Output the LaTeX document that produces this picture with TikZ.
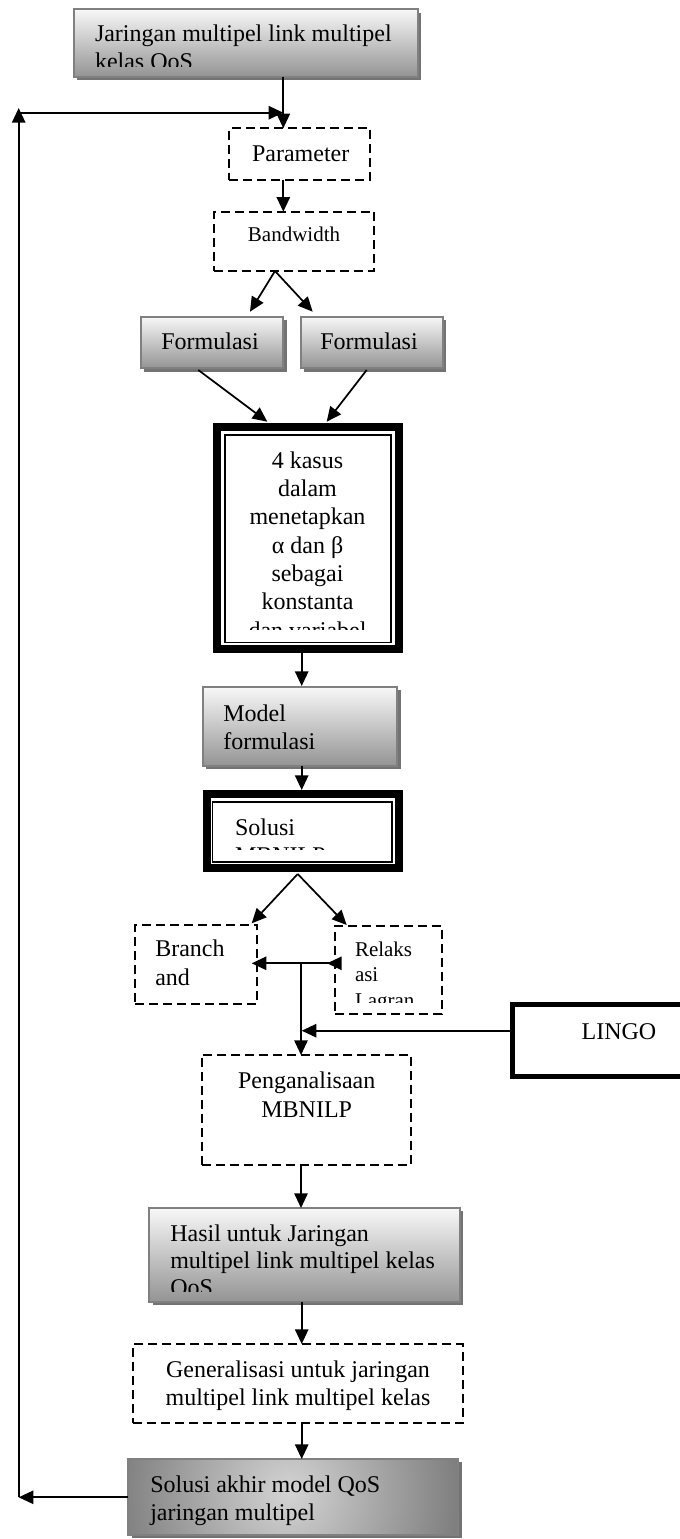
\documentclass[tikz,border=0pt]{standalone}
\usepackage{fontspec}
\setmainfont{Liberation Serif}
\usetikzlibrary{arrows.meta,fit,shadows,calc}
\begin{document}
\begin{tikzpicture}[x=0.75pt,y=-0.75pt,
  arr/.style={line width=1.3pt,-{Triangle[length=11pt,width=10pt]}},
  arrR/.style={line width=1.3pt,{Triangle[length=11pt,width=10pt,reversed]}-},
  gbox/.style={draw=black!50,line width=1.5pt,top color=black!3,bottom color=black!42,
    inner sep=0pt,outer sep=0pt,
    drop shadow={shadow xshift=2.5pt,shadow yshift=-2.5pt,fill=black!55,opacity=1}},
  rbox/.style={draw=black!50,line width=1.5pt,fill=black!62,
    inner sep=0pt,outer sep=0pt,
    path picture={\shade[inner color=black!17,outer color=black!62]
      ($(path picture bounding box.west)+(160,-4)$) circle (230);},
    drop shadow={shadow xshift=2.5pt,shadow yshift=-2.5pt,fill=black!55,opacity=1}},
  dbox/.style={draw=black,line width=1.7pt,dash pattern=on 6.75pt off 3.75pt,inner sep=0pt,outer sep=0pt},
  tbox/.style={draw=black,line width=6pt,inner sep=0pt,outer sep=0pt},
  lbox/.style={draw=black,line width=3.75pt,inner sep=0pt,outer sep=0pt},
  ibox/.style={draw=black,line width=1.4pt,inner sep=0pt,outer sep=0pt},
  txt/.style={inner sep=0pt,outer sep=0pt,font=\fontsize{18pt}{21pt}\selectfont},
  stxt/.style={inner sep=0pt,outer sep=0pt,font=\fontsize{15.75pt}{19pt}\selectfont},
]
\clip (0,0) rectangle (680,1539);
\useasboundingbox (0,0) rectangle (680,1539);

% ---------- boxes ----------
\node[gbox,fit={(74,9.3)(418,76.7)}] (top) {};
\begin{scope}
\clip (76,11) rectangle (416,66.7);
\node[txt,anchor=base west,align=left] (toptxt) at (95,69.7) {Jaringan multipel link multipel\\kelas QoS};
\end{scope}

\node[dbox,fit={(229,128.3)(370,180)}] (param) {};
\node[txt,anchor=base] (paramtxt) at (300.7,161) {Parameter};

\node[dbox,fit={(214.3,211.7)(374.3,271)}] (bw) {};
\node[stxt,anchor=base] (bwtxt) at (294,241.7) {Bandwidth};

\node[gbox,fit={(141,316.7)(283.3,368.3)}] (f1) {};
\node[txt,anchor=base] (f1txt) at (210,349.3) {Formulasi};
\node[gbox,fit={(301,316.7)(442.7,368.3)}] (f2) {};
\node[txt,anchor=base] (f2txt) at (369,349.3) {Formulasi};

\node[tbox,fit={(217.3,427.3)(398.7,649.3)}] (kasus) {};
\node[ibox,fit={(225,435)(391,642.5)}] (kasusin) {};
\begin{scope}
\clip (226,436) rectangle (390,629.5);
\node[inner sep=0pt,anchor=base,align=center,font=\fontsize{18pt}{21.25pt}\selectfont] (kasustxt) at (307.5,638.3)
 {4 kasus\\dalam\\menetapkan\\α dan β\\sebagai\\konstanta\\dan variabel};
\end{scope}

\node[gbox,fit={(202.7,687)(397.3,766)}] (model) {};
\node[txt,anchor=base west,align=left] (modeltxt) at (223.3,749.7) {Model\\formulasi};

\node[tbox,fit={(206.7,794)(398.7,867.7)}] (sol) {};
\node[ibox,fit={(212.5,802)(392,861.7)}] (solin) {};
\begin{scope}
\clip (213,803) rectangle (391,849.5);
\node[txt,anchor=base west,align=left] (soltxt) at (235,863.7) {Solusi\\MBNILP};
\end{scope}

\node[dbox,fit={(135,925)(257.3,1004)}] (branch) {};
\node[inner sep=0pt,anchor=base west,align=left,font=\fontsize{18pt}{21.25pt}\selectfont] (branchtxt) at (155,985) {Branch\\and};

\node[dbox,fit={(335,925.7)(441.7,1014)}] (relaks) {};
\begin{scope}
\clip (336,927) rectangle (441,1002);
\node[stxt,anchor=base west,align=left] (relakstxt) at (355,1007.3) {Relaks\\asi\\Lagran};
\end{scope}

\node[lbox,fit={(512.5,1004.8)(700,1076.8)}] (lingo) {};
\node[txt,anchor=base] (lingotxt) at (619,1039) {LINGO};

\node[dbox,fit={(201.7,1055)(411,1165)}] (peng) {};
\node[inner sep=0pt,anchor=base,align=center,font=\fontsize{18pt}{21.75pt}\selectfont] (pengtxt) at (306.7,1117.3) {Penganalisaan\\MBNILP};

\node[gbox,fit={(149.3,1208)(460,1301.7)}] (hasil) {};
\begin{scope}
\clip (151,1210) rectangle (458,1291.7);
\node[inner sep=0pt,anchor=base west,align=left,font=\fontsize{18pt}{20.25pt}\selectfont] (hasiltxt) at (170,1295.7)
 {Hasil untuk Jaringan\\multipel link multipel kelas\\QoS};
\end{scope}

\node[dbox,fit={(133.3,1344)(462.7,1423.3)}] (gen) {};
\node[inner sep=0pt,anchor=base,align=center,font=\fontsize{18pt}{20.8pt}\selectfont] (gentxt) at (298,1405)
 {Generalisasi untuk jaringan\\multipel link multipel kelas};

\node[rbox,fit={(128.3,1459)(458.3,1535)}] (akhir) {};
\node[inner sep=0pt,anchor=base west,align=left,font=\fontsize{18pt}{20.8pt}\selectfont] (akhirtxt) at (150,1520)
 {Solusi akhir model QoS\\jaringan multipel};

% ---------- coordinates ----------
\coordinate (pin) at (283.3,112.7);
\coordinate (fbB) at (18.7,1497.3);
\coordinate (fbT) at (18.7,108);
\coordinate (bwS) at (275,271);
\coordinate (f1T) at (250,311.7);
\coordinate (f2T) at (312.7,311.7);
\coordinate (f1S) at (198.3,370);
\coordinate (f2S) at (366.7,370);
\coordinate (kL) at (267.3,421.7);
\coordinate (kR) at (326.7,421.7);
\coordinate (mid) at (301.7,700);
\coordinate (solS) at (297.7,874);
\coordinate (brT) at (251.7,923.3);
\coordinate (rlT) at (346.7,925);
\coordinate (j) at (301,963.3);
\coordinate (brE) at (251.7,963.3);
\coordinate (rlW) at (341.7,963.3);
\coordinate (lin) at (301.7,1030.7);

% ---------- connectors ----------
\draw[arr] (top.south -| pin) -- (param.north -| pin);
\draw[arr] (akhir.west |- fbB) -- (fbB);
\draw[arr] (fbB) -- (fbT);
\draw[arr] (fbT |- pin) -- (pin);
\draw[arr] (param.south -| pin) -- (bw.north -| pin);
\draw[arr] (bwS) -- (f1T);
\draw[arr] (bwS) -- (f2T);
\draw[arr] (f1S) -- (kL);
\draw[arr] (f2S) -- (kR);
\draw[arr] ($(kasus.south -| mid)+(0,3)$) -- ($(model.north -| mid)+(0,-1)$);
\draw[arr] (model.south -| mid) -- ($(sol.north -| mid)+(0,-4)$);
\draw[arr] (solS) -- (brT);
\draw[arr] (solS) -- (rlT);
\draw[arr] (j) -- (brE);
\draw[arrR] (rlW) -- (j);
\draw[arr] (j) -- (peng.north -| j);
\draw[arr] (lingo.west |- lin) -- (lin);
\draw[arr] (peng.south -| j) -- (hasil.north -| j);
\draw[arr] (hasil.south -| lin) -- (gen.north -| lin);
\draw[arr] (gen.south -| lin) -- (akhir.north -| lin);
\end{tikzpicture}
\end{document}
